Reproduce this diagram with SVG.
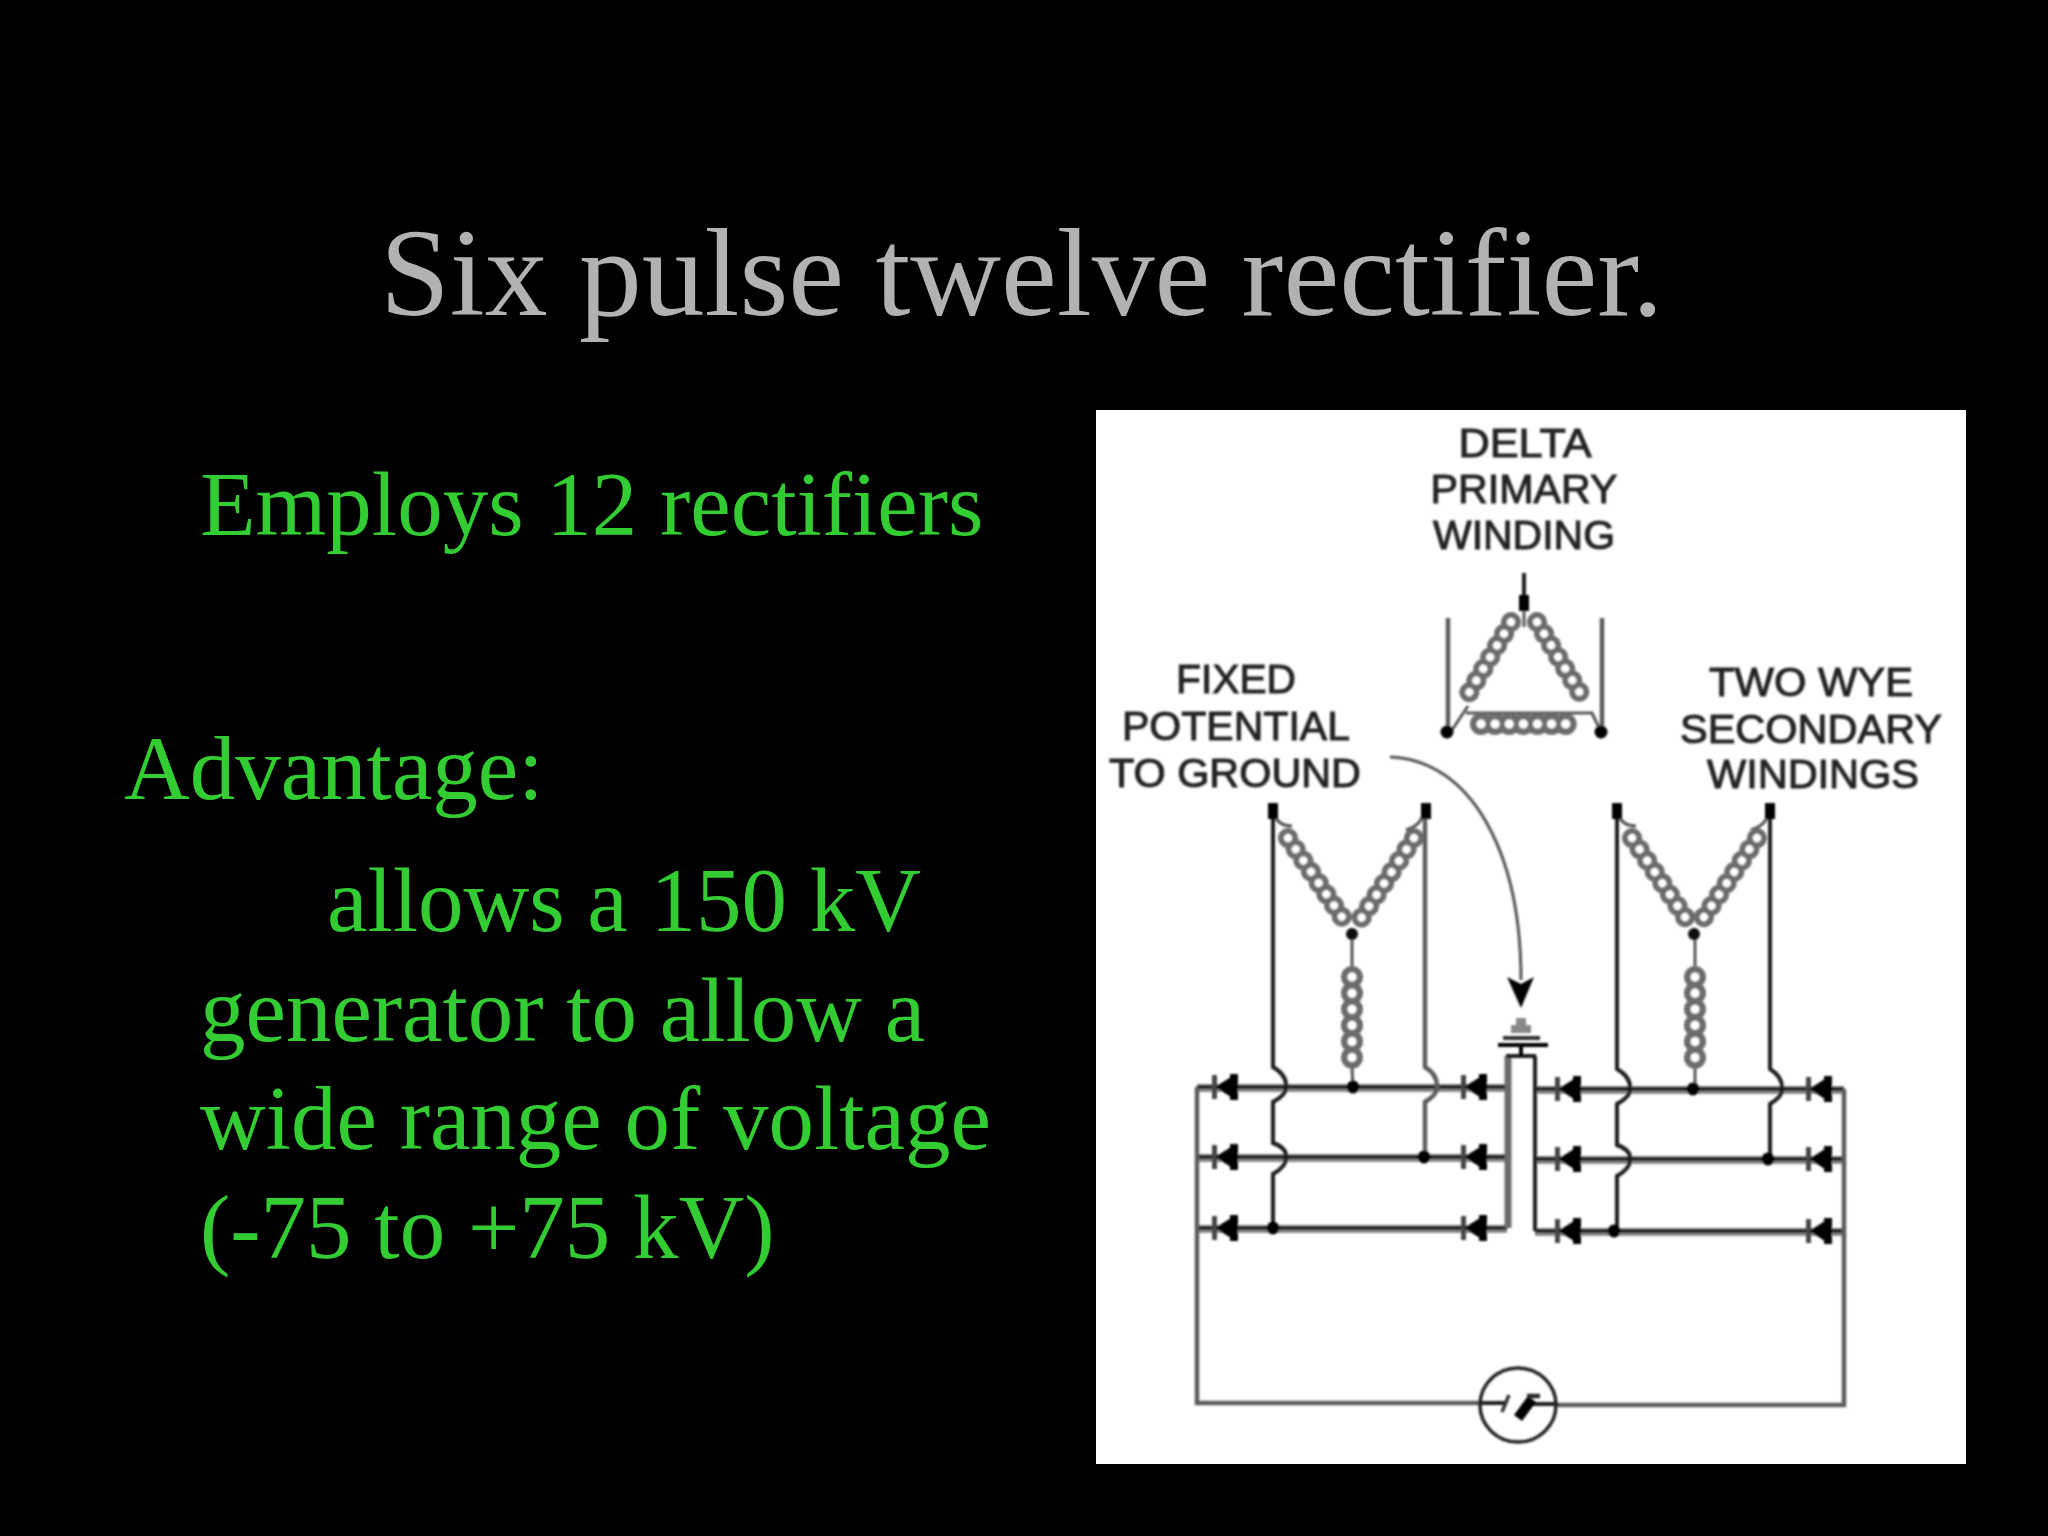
<svg xmlns="http://www.w3.org/2000/svg" width="2048" height="1536" viewBox="0 0 2048 1536">
<style>
.title{font-family:"Liberation Serif","Times New Roman",serif;font-size:125.6px;fill:#b2b2b2}
.body{font-family:"Liberation Serif","Times New Roman",serif;font-size:91px;fill:#33cc33}
.lbl{font-family:"Liberation Sans",Arial,sans-serif;font-size:40px;fill:#222;text-anchor:middle;stroke:#222;stroke-width:1}
.w{fill:none;stroke:#1c1c1c;stroke-width:4}
.g{fill:none;stroke:#5c5c5c;stroke-width:4.5}
.t{fill:none;stroke:#6a6a6a;stroke-width:7}
.arc{fill:none;stroke:#555;stroke-width:3}
.halo{fill:none;stroke:#8a8a8a;stroke-width:8}
.co{fill:none;stroke:#6c6c6c;stroke-width:20;stroke-linecap:round;stroke-dasharray:.1 13.5}
.ci{fill:none;stroke:#fff;stroke-width:8;stroke-linecap:round;stroke-dasharray:.1 13.5}
.bo{fill:none;stroke:#6c6c6c;stroke-width:22;stroke-linecap:round;stroke-dasharray:.1 14}
.bi{fill:none;stroke:#fff;stroke-width:9;stroke-linecap:round;stroke-dasharray:.1 14}
.vo{fill:none;stroke:#6c6c6c;stroke-width:22;stroke-linecap:round;stroke-dasharray:.1 16}
.vi{fill:none;stroke:#fff;stroke-width:9;stroke-linecap:round;stroke-dasharray:.1 16}
.lead{fill:none;stroke:#555;stroke-width:3}
</style>
<defs>
<filter id="soft" filterUnits="userSpaceOnUse" x="1096" y="410" width="870" height="1054"><feGaussianBlur stdDeviation="0.8"/></filter>
<g id="diode">
<rect x="-13" y="-12" width="5" height="24" fill="#444"/>
<rect x="5" y="-13" width="8" height="26" fill="#000"/>
<path d="M-10 0L6 -10V10Z" fill="#000"/>
</g>
<rect id="term" x="-5" y="-8" width="10" height="16" fill="#000"/>
</defs>
<rect width="2048" height="1536" fill="#000"/>
<g id="title"><text class="title" x="380" y="315">Six pulse twelve rectifier.</text></g>
<g id="body-text">
<text class="body" x="200" y="535">Employs 12 rectifiers</text>
<text class="body" x="124" y="799">Advantage:</text>
<text class="body" x="327" y="931">allows a 150 kV</text>
<text class="body" x="200" y="1041">generator to allow a</text>
<text class="body" x="200" y="1149">wide range of voltage</text>
<text class="body" x="200" y="1258">(-75 to +75 kV)</text>
</g>
<rect id="panel" x="1096" y="410" width="870" height="1054" fill="#fff"/>
<g id="circuit" filter="url(#soft)">
<g id="labels">
<text class="lbl" x="1525" y="457" textLength="133" lengthAdjust="spacingAndGlyphs">DELTA</text>
<text class="lbl" x="1524" y="503" textLength="187" lengthAdjust="spacingAndGlyphs">PRIMARY</text>
<text class="lbl" x="1524" y="549" textLength="182" lengthAdjust="spacingAndGlyphs">WINDING</text>
<text class="lbl" x="1236" y="693" textLength="120" lengthAdjust="spacingAndGlyphs">FIXED</text>
<text class="lbl" x="1236" y="740" textLength="228" lengthAdjust="spacingAndGlyphs">POTENTIAL</text>
<text class="lbl" x="1235" y="787" textLength="252" lengthAdjust="spacingAndGlyphs">TO GROUND</text>
<text class="lbl" x="1811" y="696" textLength="204" lengthAdjust="spacingAndGlyphs">TWO WYE</text>
<text class="lbl" x="1811" y="743" textLength="262" lengthAdjust="spacingAndGlyphs">SECONDARY</text>
<text class="lbl" x="1813" y="788" textLength="212" lengthAdjust="spacingAndGlyphs">WINDINGS</text>
</g>
<g id="connectors">
<path class="halo" d="M1197 1088H1507M1197 1158H1507M1197 1229H1507M1535 1090H1844M1535 1160H1844M1535 1232H1844"/>
<path class="w" d="M1197 1087H1507M1197 1157H1507M1197 1228H1507M1535 1089H1844M1535 1159H1844M1535 1231H1844"/>
<path class="g" d="M1197 1087V1403H1480M1558 1405H1844V1089"/>
<path class="w" d="M1480 1403H1506M1530 1404H1558"/>
<path class="w" d="M1273 810V1067Q1287 1075 1286 1087Q1287 1094 1273 1102V1143Q1287 1148 1286 1157Q1287 1166 1273 1174V1228"/>
<path class="g" d="M1425 810V1067Q1438 1075 1437 1087Q1438 1094 1425 1102V1157"/>
<path class="w" d="M1617 810V1069Q1631 1077 1630 1089Q1631 1096 1617 1104V1145Q1631 1150 1630 1159Q1631 1168 1617 1176V1231"/>
<path class="w" d="M1770 810V1069Q1783 1077 1782 1089Q1783 1096 1770 1104V1159"/>
<path class="t" d="M1508 1228V1056"/>
<path class="w" d="M1506 1056H1536M1535 1056V1231"/>
<path class="arc" d="M1390 757C1470 760 1521 850 1521 980"/>
<path d="M1507 977L1521 1008L1534 977L1521 984Z" fill="#000"/>
</g>
<g id="ground">
<path d="M1516 1018H1526V1025H1531V1033H1511V1025H1516Z" fill="#888"/>
<rect x="1503" y="1036" width="37" height="4" fill="#333"/>
<rect x="1498" y="1043" width="50" height="4" fill="#000"/>
<rect x="1519" y="1045" width="4" height="11" fill="#000"/>
</g>
<g id="delta-primary">
<path class="w" d="M1524 573V600"/>
<path class="g" d="M1448 618V732M1602 618V732"/>
<path class="lead" d="M1524 605V627M1452 730L1468 706M1466 713H1592L1600 730"/>
<path class="co" d="M1511 622L1463 703M1537 622L1586 703"/>
<path class="ci" d="M1511 622L1463 703M1537 622L1586 703"/>
<path class="bo" d="M1481 724H1568"/>
<path class="bi" d="M1481 724H1568"/>
<use href="#term" x="1524" y="603"/>
<circle cx="1447" cy="732" r="6.5" fill="#000"/>
<circle cx="1601" cy="732" r="6.5" fill="#000"/>
</g>
<g id="wye-left">
<path class="lead" d="M1275 815Q1278 826 1292 826M1423 815Q1420 826 1406 830M1352 928V970M1352 1067L1353 1087"/>
<path class="co" d="M1288 838L1344 920M1414 838L1360 920"/>
<path class="ci" d="M1288 838L1344 920M1414 838L1360 920"/>
<path class="vo" d="M1352 977V1065"/>
<path class="vi" d="M1352 977V1065"/>
<use href="#term" x="1273" y="811"/>
<use href="#term" x="1426" y="811"/>
<circle cx="1352" cy="934" r="6" fill="#111"/>
<circle cx="1353" cy="1087" r="6.5" fill="#000"/>
<circle cx="1424" cy="1157" r="6.5" fill="#000"/>
<circle cx="1273" cy="1228" r="6.5" fill="#000"/>
</g>
<g id="wye-right">
<path class="lead" d="M1619 815Q1622 826 1636 826M1768 815Q1765 826 1751 830M1695 928V970M1695 1067L1695 1089"/>
<path class="co" d="M1632 838L1687 920M1757 838L1702 920"/>
<path class="ci" d="M1632 838L1687 920M1757 838L1702 920"/>
<path class="vo" d="M1695 977V1065"/>
<path class="vi" d="M1695 977V1065"/>
<use href="#term" x="1617" y="811"/>
<use href="#term" x="1770" y="811"/>
<circle cx="1694" cy="934" r="6" fill="#111"/>
<circle cx="1693" cy="1089" r="6.5" fill="#000"/>
<circle cx="1768" cy="1159" r="6.5" fill="#000"/>
<circle cx="1614" cy="1231" r="6.5" fill="#000"/>
</g>
<g id="diodes">
<use href="#diode" x="1225" y="1087"/>
<use href="#diode" x="1225" y="1157"/>
<use href="#diode" x="1225" y="1228"/>
<use href="#diode" x="1474" y="1087"/>
<use href="#diode" x="1474" y="1157"/>
<use href="#diode" x="1474" y="1228"/>
<use href="#diode" x="1568" y="1089"/>
<use href="#diode" x="1568" y="1159"/>
<use href="#diode" x="1568" y="1231"/>
<use href="#diode" x="1819" y="1089"/>
<use href="#diode" x="1819" y="1159"/>
<use href="#diode" x="1819" y="1231"/>
</g>
<g id="generator">
<ellipse cx="1518" cy="1405" rx="38" ry="37" fill="none" stroke="#222" stroke-width="3.5"/>
<path d="M1502 1412L1509 1395" fill="none" stroke="#333" stroke-width="3.5"/>
<path d="M1518 1418L1532 1399" fill="none" stroke="#000" stroke-width="10"/>
<path d="M1527 1396H1540" fill="none" stroke="#222" stroke-width="4.5"/>
</g>
</g>
</svg>
